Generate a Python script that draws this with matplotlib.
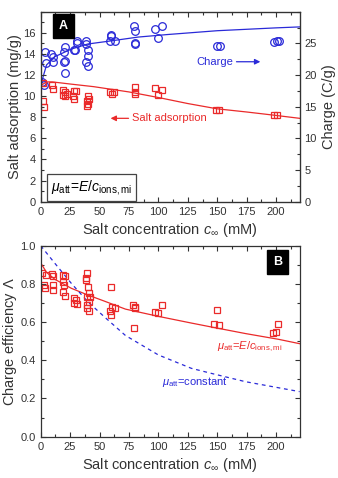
import numpy as np
import matplotlib.pyplot as plt

plt.rcParams['font.family'] = ['Liberation Sans', 'DejaVu Sans']
plt.rcParams['mathtext.fontset'] = 'custom'
plt.rcParams['mathtext.rm'] = 'Liberation Sans'
plt.rcParams['mathtext.it'] = 'Liberation Sans:italic'
plt.rcParams['mathtext.sf'] = 'Liberation Sans'

RED = '#ea2a2a'
BLUE = '#2a2ad8'
DARK = '#333333'

# ---- panel A: charge (C/g), right axis ----
charge_c = [1.5, 2.5, 3.9, 4.8, 9, 10.5, 10.7, 19.5, 21, 19.5, 21, 20.4, 28.3, 29.5,
            30.6, 30.6, 38.5, 38.5, 40, 40.5, 38.5, 40, 59.8, 59.8, 58.6, 62.9,
            79.3, 80, 80, 80.5, 97, 100, 103, 149.6, 152.1, 198.6, 200.6, 202.5]
charge_q = [18.9, 18.4, 23.7, 21.9, 23.4, 22.9, 22.0, 23.7, 24.5, 22.1, 22.2, 20.3, 24.0, 24.0,
            25.4, 25.0, 25.3, 24.9, 23.9, 23.0, 22.0, 21.4, 26.4, 26.1, 25.4, 25.3,
            27.8, 27.0, 25.0, 24.9, 27.3, 25.9, 27.8, 24.6, 24.6, 25.2, 25.4, 25.3]
charge_fit_c = [0, 1, 2, 5, 12, 26, 40, 60, 83, 108, 150, 200, 220]
charge_fit_q = [17.2, 18.8, 19.7, 21.6, 22.9, 24.1, 24.9, 25.4, 26.0, 26.4, 27.0, 27.45, 27.6]

# ---- panel A: salt adsorption (mg/g), left axis ----
salt_c = [2, 2.5, 2, 9.6, 10.2, 19, 20.5, 19, 20.5, 22, 28, 30, 27.5, 28, 40, 41, 39, 40, 39.5,
          59, 60.5, 62, 80, 80.5, 80, 97, 103, 100, 148.8, 151.6, 198, 201]
salt_m = [9.5, 9.0, 11.2, 11.1, 10.7, 10.6, 10.4, 10.1, 10.0, 10.2, 10.5, 10.5, 10.0, 9.75,
          10.0, 9.75, 9.5, 9.3, 9.1, 10.4, 10.2, 10.4, 10.9, 10.4, 10.2, 10.8, 10.6, 10.1,
          8.7, 8.7, 8.25, 8.25]
salt_fit_c = [0, 5, 10, 25, 45, 75, 101, 125, 150, 175, 198, 220]
salt_fit_m = [11.0, 11.35, 11.35, 11.15, 10.9, 10.4, 9.85, 9.3, 8.8, 8.5, 8.2, 7.9]

# ---- panel B: charge efficiency ----
eff_c = [1.1, 4.8, 9.6, 10.2, 2.8, 3.9, 10.5, 10.5, 19, 20.4, 19, 20, 19, 20.4, 28, 30, 28, 31,
         39.6, 38.8, 38.8, 40.2, 40.8, 39, 41, 39.5, 39, 41, 42, 59.5, 58.6, 60, 60.6, 62.9,
         78.5, 79.9, 80.4, 79.3, 96.9, 99.7, 103.1, 149.6, 147.6, 151.8, 201.4, 197.7, 200]
eff_l = [0.857, 0.847, 0.85, 0.84, 0.794, 0.78, 0.794, 0.768, 0.847, 0.841, 0.812, 0.794,
         0.759, 0.737, 0.725, 0.716, 0.698, 0.695, 0.859, 0.829, 0.82, 0.782, 0.754, 0.733,
         0.707, 0.69, 0.672, 0.66, 0.733, 0.785, 0.66, 0.637, 0.677, 0.672, 0.69, 0.672,
         0.681, 0.571, 0.654, 0.646, 0.69, 0.663, 0.59, 0.585, 0.59, 0.545, 0.55]
eff_fit_c = [0, 5, 12, 26, 40, 54, 72, 100, 128, 147, 174, 202, 220]
eff_fit_l = [0.91, 0.86, 0.824, 0.777, 0.742, 0.71, 0.668, 0.63, 0.595, 0.572, 0.54, 0.51, 0.487]
const_c = [0, 12, 26, 40, 54, 72, 100, 128, 146, 174, 220]
const_l = [1.0, 0.908, 0.803, 0.707, 0.628, 0.53, 0.428, 0.358, 0.33, 0.288, 0.236]


def style_axis(ax, ymajor, yminor, right_labels=False):
    ax.set_xlim(0, 220)
    ax.set_xticks(np.arange(0, 201, 25))
    ax.set_xticks(np.arange(0, 221, 12.5), minor=True)
    ax.set_yticks(ymajor)
    ax.set_yticks(yminor, minor=True)
    ax.tick_params(which='both', direction='in', top=True, right=not right_labels,
                   labelsize=8, colors=DARK, width=0.8)
    ax.tick_params(which='major', length=3.5)
    ax.tick_params(which='minor', length=2)
    for s in ax.spines.values():
        s.set_color(DARK)
        s.set_linewidth(0.9)


def letter_box(ax, x, y, txt):
    ax.text(x, y, txt, transform=ax.transAxes, color='white', fontsize=9, fontweight='bold',
            ha='center', va='center',
            bbox=dict(boxstyle='square,pad=0.45', fc='black', ec='black'))


fig = plt.figure(figsize=(3.38, 4.78), dpi=100)

# ===== panel A =====
ax1 = fig.add_axes([0.1204, 0.578, 0.766, 0.3975])
ax1.plot(salt_fit_c, salt_fit_m, color=RED, lw=0.9)
ax1.plot(salt_c, salt_m, ls='none', marker='s', ms=5, mfc='none', mec=RED, mew=0.9)
ax1.set_ylim(0, 18)
style_axis(ax1, np.arange(0, 17, 2), np.arange(0, 18.1, 1), right_labels=True)
ax1.set_ylabel('Salt adsorption (mg/g)', fontsize=10.5, color=DARK, labelpad=1)
ax1.set_xlabel(r'Salt concentration $c_{\infty}$ (mM)', fontsize=10.5, color=DARK, labelpad=3)

ax2 = ax1.twinx()
ax2.plot(charge_fit_c, charge_fit_q, color=BLUE, lw=0.9)
ax2.plot(charge_c, charge_q, ls='none', marker='o', ms=5.5, mfc='none', mec=BLUE, mew=0.9)
ax2.set_ylim(0, 30)
ax2.set_yticks(np.arange(0, 26, 5))
ax2.set_yticks(np.arange(0, 30.1, 2.5), minor=True)
ax2.tick_params(which='both', direction='in', labelsize=8, colors=DARK, width=0.8)
ax2.tick_params(which='major', length=3.5)
ax2.tick_params(which='minor', length=2)
ax2.set_ylabel('Charge (C/g)', fontsize=10.5, color=DARK, labelpad=4)
ax1.set_zorder(ax2.get_zorder() + 1)
ax1.patch.set_visible(False)

letter_box(ax1, 0.088, 0.925, 'A')
ax2.annotate('', xy=(189, 22.1), xytext=(164, 22.1),
             arrowprops=dict(arrowstyle='-|>', color=BLUE, lw=0.9, mutation_scale=8))
ax2.text(163.5, 22.1, 'Charge', color=BLUE, fontsize=8, ha='right', va='center')
ax1.annotate('', xy=(57, 7.9), xytext=(77, 7.9),
             arrowprops=dict(arrowstyle='-|>', color=RED, lw=0.9, mutation_scale=8))
ax1.text(78, 7.9, 'Salt adsorption', color=RED, fontsize=8, ha='left', va='center')
ax1.text(0.04, 0.075, r'$\mu_{\mathrm{att}}$=$E/c_{\mathrm{ions,mi}}$', transform=ax1.transAxes,
         fontsize=10, color='black', ha='left', va='center',
         bbox=dict(boxstyle='square,pad=0.3', fc='white', ec='#444444', lw=0.9))

# ===== panel B =====
ax3 = fig.add_axes([0.1204, 0.0864, 0.766, 0.3996])
ax3.plot(eff_fit_c, eff_fit_l, color=RED, lw=0.9)
ax3.plot(const_c, const_l, color=BLUE, lw=0.9, ls=(0, (3, 3)))
ax3.plot(eff_c, eff_l, ls='none', marker='s', ms=5, mfc='none', mec=RED, mew=0.9)
ax3.set_ylim(0, 1.0)
style_axis(ax3, np.arange(0, 1.01, 0.2), np.arange(0, 1.01, 0.1))
ax3.yaxis.set_major_formatter(plt.FormatStrFormatter('%.1f'))
ax3.set_ylabel(r'Charge efficiency $\Lambda$', fontsize=10.5, color=DARK, labelpad=1)
ax3.set_xlabel(r'Salt concentration $c_{\infty}$ (mM)', fontsize=10.5, color=DARK, labelpad=3)
letter_box(ax3, 0.915, 0.915, 'B')
ax3.text(205, 0.47, r'$\mu_{\mathrm{att}}$=$E/c_{\mathrm{ions,mi}}$', color=RED, fontsize=8,
         ha='right', va='center')
ax3.text(103, 0.285, r'$\mu_{\mathrm{att}}$=constant', color=BLUE, fontsize=8,
         ha='left', va='center')

fig.savefig('out.png', dpi=100)
